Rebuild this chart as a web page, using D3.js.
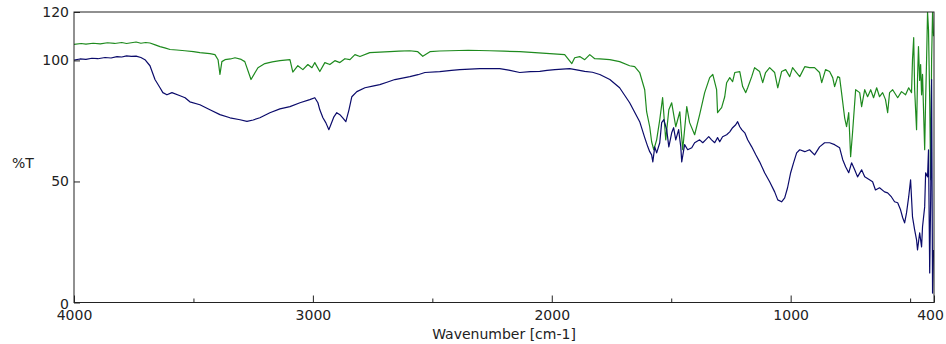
<!DOCTYPE html>
<html>
<head>
<meta charset="utf-8">
<script src="https://cdn.jsdelivr.net/npm/d3@7"></script>
<style>
  html, body { margin: 0; padding: 0; background: #fff; }
  svg { display: block; }
  .axis text { font-family: "DejaVu Sans", Verdana, sans-serif; font-size: 14px; fill: #222; }
  .axis line { stroke: #222; }
  .axis path { display: none; }
</style>
</head>
<body>
<svg id="chart" width="946" height="344"></svg>
<script>
// IR transmittance spectra: [wavenumber cm-1, %T]
const upperSpectrum = [
  [4000,106.6],[3970,107.0],[3950,106.7],[3920,107.1],[3890,106.8],[3860,107.3],
  [3830,107.0],[3800,107.4],[3780,107.0],[3760,107.3],[3740,107.6],[3720,107.1],
  [3700,107.4],[3682,107.2],[3660,106.4],[3640,105.7],[3620,105.2],[3598,104.5],
  [3570,104.3],[3536,104.0],[3500,103.6],[3473,103.2],[3431,102.8],[3410,102.4],
  [3397,100.3],[3389,94.2],[3381,99.5],[3368,100.3],[3345,100.6],[3326,101.1],
  [3300,100.4],[3285,99.5],[3259,92.1],[3230,97.0],[3201,98.7],[3170,99.4],
  [3138,99.9],[3096,100.3],[3084,95.2],[3063,97.8],[3042,96.2],[3021,98.3],
  [3004,97.0],[2992,99.1],[2971,95.4],[2950,99.1],[2929,98.3],[2908,99.9],
  [2887,99.1],[2866,100.7],[2845,100.3],[2824,102.4],[2803,101.6],[2762,103.2],
  [2720,103.4],[2678,103.6],[2640,103.8],[2594,104.0],[2561,103.6],[2540,101.7],
  [2510,103.6],[2470,103.9],[2427,104.0],[2350,104.2],[2259,104.0],[2200,103.8],
  [2134,103.6],[2070,103.2],[2008,102.8],[1946,102.4],[1916,98.7],[1904,101.1],
  [1883,101.6],[1862,100.3],[1841,102.4],[1820,100.7],[1799,100.6],[1757,100.3],
  [1716,99.5],[1674,97.8],[1653,97.4],[1632,95.0],[1611,87.9],[1603,78.8],
  [1590,72.6],[1582,66.4],[1573,63.1],[1561,67.2],[1548,75.5],[1536,84.6],
  [1523,67.2],[1510,79.6],[1498,82.5],[1481,72.6],[1464,78.8],[1452,63.1],
  [1435,80.9],[1423,74.3],[1402,69.3],[1381,77.6],[1360,86.7],[1339,92.9],
  [1326,94.2],[1310,87.9],[1306,78.4],[1297,79.6],[1289,80.5],[1276,85.0],
  [1268,90.8],[1255,92.9],[1243,91.2],[1234,95.0],[1213,95.4],[1201,89.2],
  [1188,86.7],[1180,88.7],[1163,93.3],[1151,97.0],[1130,95.4],[1117,90.8],
  [1105,95.0],[1088,97.0],[1067,95.0],[1054,88.7],[1038,95.4],[1021,96.2],
  [1004,93.3],[992,97.0],[979,95.4],[962,93.3],[941,97.4],[921,97.0],
  [900,97.0],[879,95.0],[870,90.8],[854,96.2],[837,95.4],[824,92.9],
  [816,89.2],[803,93.3],[795,92.9],[787,86.7],[774,76.3],[766,72.6],
  [757,78.4],[749,60.2],[741,70.1],[728,87.9],[711,86.7],[703,80.9],
  [690,87.9],[678,85.0],[665,87.9],[653,84.6],[640,88.7],[628,85.0],
  [615,86.7],[603,83.8],[594,78.4],[586,86.7],[573,87.9],[552,84.6],
  [536,87.1],[519,85.8],[506,88.7],[494,86.7],[490,100.3],[485,109.4],
  [481,87.9],[473,71.4],[469,92.1],[465,105.7],[460,91.7],[456,98.3],
  [452,85.8],[448,94.2],[439,63.1],[435,83.8],[431,100.3],[427,120],
  [423,112.7],[418,83.8],[414,50.7],[410,100.3],[406,120],[402,110]
];

const lowerSpectrum = [
  [4000,100.1],[3975,100.6],[3950,100.4],[3925,100.9],[3900,100.7],[3870,101.2],
  [3845,101.0],[3820,101.6],[3800,101.4],[3780,101.9],[3760,101.7],[3740,101.8],
  [3720,101.2],[3703,100.3],[3682,97.8],[3661,92.1],[3640,88.7],[3628,86.7],
  [3611,85.8],[3590,86.7],[3556,85.4],[3535,84.6],[3515,82.9],[3473,81.7],
  [3431,79.6],[3389,77.6],[3347,76.3],[3305,75.5],[3276,74.8],[3250,75.4],
  [3222,76.3],[3180,78.4],[3138,80.0],[3096,80.9],[3054,82.5],[3013,83.8],
  [2992,84.6],[2979,82.5],[2971,79.6],[2958,76.3],[2946,74.3],[2933,71.4],
  [2925,73.4],[2912,76.7],[2900,78.4],[2887,77.6],[2875,76.3],[2862,74.7],
  [2849,79.6],[2837,85.0],[2816,87.1],[2782,88.7],[2750,89.4],[2720,90.0],
  [2690,91.0],[2657,92.1],[2620,92.8],[2594,93.3],[2560,94.1],[2531,95.0],
  [2469,95.4],[2420,95.9],[2385,96.2],[2301,96.6],[2218,96.6],[2180,96.0],
  [2134,95.0],[2090,95.4],[2050,95.5],[2020,95.9],[1987,96.2],[1925,96.6],
  [1890,96.0],[1862,95.5],[1830,95.1],[1799,94.2],[1757,92.1],[1716,88.7],
  [1674,82.5],[1632,74.7],[1611,68.1],[1598,64.3],[1590,62.3],[1582,61.0],
  [1577,58.1],[1569,64.3],[1561,61.8],[1548,66.0],[1540,74.3],[1531,75.5],
  [1519,71.4],[1510,64.3],[1498,70.1],[1490,72.2],[1481,67.2],[1469,71.4],
  [1460,64.3],[1456,58.1],[1444,65.2],[1431,63.1],[1414,63.9],[1402,66.0],
  [1381,67.2],[1368,66.0],[1356,67.2],[1343,68.5],[1331,67.2],[1318,66.0],
  [1306,68.1],[1297,66.4],[1285,68.5],[1268,69.3],[1255,70.5],[1243,72.2],
  [1230,73.4],[1222,74.7],[1213,72.6],[1205,71.4],[1192,70.1],[1180,67.2],
  [1163,64.3],[1146,61.0],[1130,58.1],[1109,53.6],[1088,49.9],[1067,45.7],
  [1054,42.4],[1038,41.6],[1025,43.2],[1013,47.4],[1000,53.6],[988,57.7],
  [975,61.8],[962,63.1],[941,62.3],[921,63.1],[900,61.0],[879,64.3],
  [858,66.0],[837,66.0],[816,65.2],[795,63.9],[782,59.0],[770,56.1],
  [757,53.6],[745,57.7],[732,54.8],[720,51.9],[703,54.8],[690,51.9],
  [670,50.7],[657,49.9],[645,46.5],[628,47.4],[607,45.7],[594,45.3],
  [578,43.6],[565,41.6],[552,41.2],[540,38.3],[531,35.0],[523,32.9],
  [515,37.0],[506,43.6],[498,50.7],[490,35.4],[481,30.0],[473,25.9],
  [469,21.7],[460,28.8],[452,23.0],[448,31.3],[439,39.5],[435,53.6],
  [427,51.9],[423,63.1],[418,12.2],[414,42.4],[410,92.1],[406,3.9],[402,21.7]
];

const xMajorTicks = [4000, 3000, 2000, 1000, 400];
const xMinorTicks = [3500, 2500, 1500, 500];
const yTicks = [0, 50, 100, 120];

const svg = d3.select("#chart");
const plot = { left: 74, right: 934, top: 12, bottom: 302.5 };

const x = d3.scaleLinear().domain([4000, 400]).range([plot.left, plot.right]);
const y = d3.scaleLinear().domain([0, 120]).range([plot.bottom, plot.top]);

svg.append("defs").append("clipPath").attr("id", "plot-clip")
  .append("rect")
  .attr("x", plot.left).attr("y", plot.top)
  .attr("width", plot.right - plot.left).attr("height", plot.bottom - plot.top);

const line = d3.line().x(d => x(d[0])).y(d => y(d[1]));

const traces = svg.append("g").attr("clip-path", "url(#plot-clip)");
traces.append("path").datum(upperSpectrum)
  .attr("fill", "none").attr("stroke", "#1e8a1e").attr("stroke-width", 1.2)
  .attr("stroke-linejoin", "round").attr("d", line);
traces.append("path").datum(lowerSpectrum)
  .attr("fill", "none").attr("stroke", "#0b0b6b").attr("stroke-width", 1.2)
  .attr("stroke-linejoin", "round").attr("d", line);

// Frame
svg.append("rect")
  .attr("x", plot.left).attr("y", plot.top)
  .attr("width", plot.right - plot.left).attr("height", plot.bottom - plot.top)
  .attr("fill", "none").attr("stroke", "#222").attr("stroke-width", 1);

// Bottom axis (ticks point into the plot)
const xAxis = svg.append("g").attr("class", "axis")
  .attr("transform", `translate(0,${plot.bottom})`)
  .call(d3.axisBottom(x).tickValues(xMajorTicks).tickSizeInner(-7).tickSizeOuter(0)
    .tickPadding(8).tickFormat(d3.format("d")));
// keep the last label inside the page
xAxis.selectAll(".tick text").filter(d => d === 400).attr("dx", -4);

svg.append("g").attr("class", "axis")
  .attr("transform", `translate(0,${plot.bottom})`)
  .call(d3.axisBottom(x).tickValues(xMinorTicks).tickSizeInner(-4).tickSizeOuter(0)
    .tickFormat(""));

// Left axis
const yAxis = svg.append("g").attr("class", "axis")
  .attr("transform", `translate(${plot.left},0)`)
  .call(d3.axisLeft(y).tickValues(yTicks).tickSizeInner(-6).tickSizeOuter(0)
    .tickPadding(5).tickFormat(d3.format("d")));
yAxis.selectAll(".tick text").filter(d => d === 0).attr("dy", "0.4em");

svg.append("text")
  .attr("x", (plot.left + plot.right) / 2).attr("y", 339)
  .attr("text-anchor", "middle")
  .style("font-family", "'DejaVu Sans', Verdana, sans-serif").style("font-size", "14px").style("fill", "#222")
  .text("Wavenumber [cm-1]");

svg.append("text")
  .attr("x", 12).attr("y", 168)
  .style("font-family", "'DejaVu Sans', Verdana, sans-serif").style("font-size", "14px").style("fill", "#222")
  .text("%T");
</script>
</body>
</html>
